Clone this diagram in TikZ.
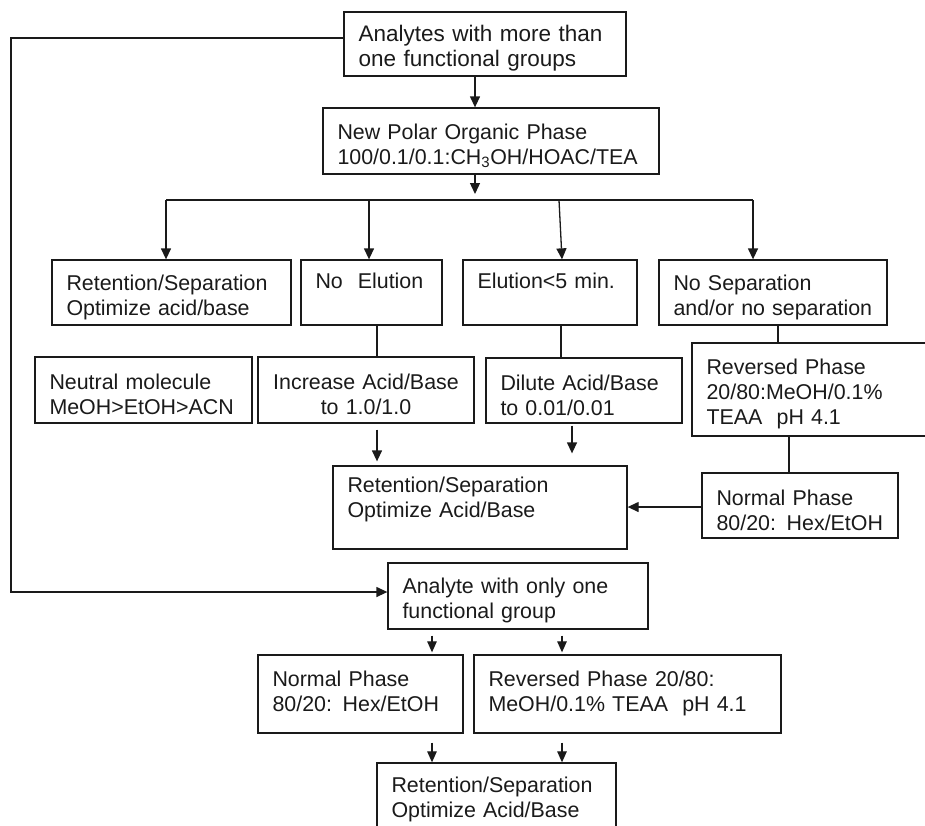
\documentclass[tikz,border=0pt]{standalone}
\usepackage{fontspec}
\setmainfont{Liberation Sans}
\usetikzlibrary{arrows.meta}
\definecolor{ink}{HTML}{1A1A1A}
\newcommand{\fs}{\fontsize{21.4}{25}\selectfont}
\newcommand{\fl}{\fontsize{22.5}{24.5}\selectfont}
\tikzset{
  box/.style={draw=ink,line width=1.3pt,align=left,inner xsep=14.5pt,inner ysep=0pt,font=\fs,text=ink,
    execute at begin node={\rule{0pt}{25pt}}},
  ar/.style={-{Triangle[length=11pt,width=10pt]},line width=1.3pt,draw=ink},
  sar/.style={-{Triangle[length=11pt,width=9.5pt]},line width=1.2pt,draw=ink},
  ln/.style={line width=1.3pt,draw=ink},
}
\begin{document}
\begin{tikzpicture}[x=1pt,y=-1pt]
\useasboundingbox (0,0) rectangle (925,825);
% top of the chart
\node[box,font=\fl,minimum width=282pt,minimum height=64pt,text width=253pt] (top) at (485,44) {Analytes with more than\\one functional groups};
\node[box,minimum width=336pt,minimum height=66pt,text width=307pt] (npo) at (491,141) {New Polar Organic Phase\\100/0.1/0.1:CH\textsubscript{3}OH/HOAC/TEA};
% four outcomes
\node[box,minimum width=239pt,minimum height=65pt,text width=210pt] (ret1) at (171.5,292.5) {Retention/Separation\\Optimize acid/base};
\node[box,minimum width=141pt,minimum height=65pt,text width=112pt] (noel) at (371.5,292.5) {No\hspace{15pt}Elution\\\strut};
\node[box,minimum width=174pt,minimum height=65pt,text width=145pt] (el5) at (550,292.5) {Elution<5 min.\\\strut};
\node[box,minimum width=228pt,minimum height=65pt,text width=199pt] (nosep) at (773,292.5) {No Separation\\and/or no separation};
% remedies
\node[box,minimum width=217pt,minimum height=66pt,text width=188pt] (neut) at (143.5,390) {Neutral molecule\\MeOH>EtOH>ACN};
\node[box,align=center,minimum width=216pt,minimum height=66pt,text width=187pt] (incr) at (366,390) {Increase Acid/Base\\to 1.0/1.0};
\node[box,minimum width=196pt,minimum height=65pt,text width=167pt] (dil) at (584,390.5) {Dilute Acid/Base\\to 0.01/0.01};
\node[box,minimum width=243pt,minimum height=93pt,text width=214pt] (rev1) at (813.5,389.5) {Reversed Phase\\20/80:MeOH/0.1\%\\TEAA\ \ pH 4.1};
\node[box,minimum width=294pt,minimum height=83pt,text width=265pt] (ret2) at (480,507.5) {Retention/Separation\\Optimize Acid/Base\\[-2pt]\strut};
\node[box,minimum width=196pt,minimum height=65pt,text width=167pt] (norm1) at (800,505.5) {Normal Phase\\80/20: Hex/EtOH};
% single group branch
\node[box,minimum width=260pt,minimum height=66pt,text width=231pt] (one) at (518,596) {Analyte with only one\\functional group};
\node[box,minimum width=205pt,minimum height=78pt,text width=176pt] (norm2) at (360.5,694) {Normal Phase\\80/20: Hex/EtOH\\[-18pt]\strut};
\node[box,minimum width=307pt,minimum height=78pt,text width=278pt] (rev2) at (627.5,694) {Reversed Phase 20/80:\\MeOH/0.1\% TEAA\ \ pH 4.1\\[-18pt]\strut};
\node[box,minimum width=239pt,minimum height=64pt,text width=210pt] (ret3) at (496.5,795) {Retention/Separation\\Optimize Acid/Base};

\coordinate (b1) at (166,200);
\coordinate (b2) at (369,200);
\coordinate (b3) at (559,200);
\coordinate (b4) at (753,200);
\coordinate (lft) at (11,300);

\draw[ar] (top.south -| 475,0) -- (npo.north -| 475,0);
\draw[ar,shorten >=6pt] (npo.south -| 475,0) -- (b1 -| 475,0);
\draw[ln] (b1) -- (b4);
\draw[ar] (b1) -- (b1 |- ret1.north);
\draw[ar] (b2) -- (b2 |- noel.north);
\draw[ar] (b3) -- ([xshift=3pt]b3 |- el5.north);
\draw[ar] (b4) -- (b4 |- nosep.north);

\draw[ln] (noel.south -| 377,0) -- (incr.north -| 377,0);
\draw[ln] (el5.south -| 561,0) -- (dil.north -| 561,0);
\draw[ln] (nosep.south -| 778,0) -- (rev1.north -| 778,0);
\draw[ln] (rev1.south -| 789,0) -- (norm1.north -| 789,0);
\draw[ar,shorten <=6pt,shorten >=4pt] (incr.south -| 377,0) -- (ret2.north -| 377,0);
\draw[ar,shorten <=2pt,shorten >=12pt] (dil.south -| 572,0) -- (ret2.north -| 572,0);
\draw[ar] (norm1.west |- 0,507) -- (ret2.east |- 0,507);

% loop round to the single group case
\draw[ar] (top.west |- 0,38) -| (lft) |- (one.west |- 0,592);
\draw[sar,shorten <=6pt,shorten >=2pt] (one.south -| 432,0) -- (norm2.north -| 432,0);
\draw[sar,shorten <=6pt,shorten >=2pt] (one.south -| 562,0) -- (rev2.north -| 562,0);
\draw[sar,shorten <=9pt] (norm2.south -| 432,0) -- (ret3.north -| 432,0);
\draw[sar,shorten <=9pt] (rev2.south -| 562,0) -- (ret3.north -| 562,0);
\end{tikzpicture}
\end{document}
